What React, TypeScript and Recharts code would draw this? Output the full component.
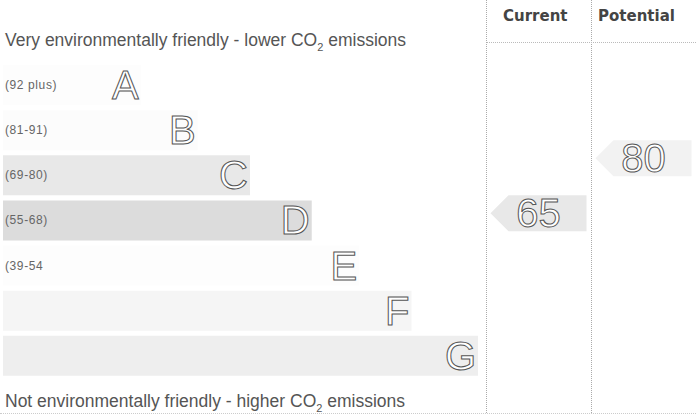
import React from 'react';
import { BarChart, Bar, XAxis, YAxis, Cell, LabelList, ScatterChart, Scatter } from 'recharts';

const bands = ['A', 'B', 'C', 'D', 'E', 'F', 'G'];
const bandRanges = ['(92 plus)', '(81-91)', '(69-80)', '(55-68)', '(39-54', '', ''];
const bandLengths = [29, 41, 52, 65, 75, 86, 100];
const bandColors = ['#fdfdfd', '#fcfcfc', '#e8e8e8', '#dcdcdc', '#fdfdfd', '#f5f5f5', '#eeeeee'];

const ratingColumns = ['Current', 'Potential'];
const ratingValues = [65, 80];
const ratingColors = ['#e8e8e8', '#f2f2f2'];

const bandData = bands.map((b, i) => ({ band: b, range: bandRanges[i], length: bandLengths[i] }));
const ratingData = ratingColumns.map((c, i) => ({ col: i + 0.5, rating: ratingValues[i], name: c, color: ratingColors[i] }));

const LetterLabel = (props: any) => {
  const { x, y, width, height, value } = props;
  return (
    <text
      x={x + width - 2}
      y={y + height / 2 + 14}
      textAnchor="end"
      fontFamily="Liberation Sans, Arial, sans-serif"
      fontSize={40}
      fill="#ffffff"
      stroke="#555"
      strokeWidth={1}
    >
      {value}
    </text>
  );
};

const RangeLabel = (props: any) => {
  const { x, y, height, value } = props;
  return (
    <text
      x={x + 2}
      y={y + height / 2 + 4}
      fontFamily="Liberation Sans, Arial, sans-serif"
      fontSize={12}
      letterSpacing={0.6}
      fill="#666"
    >
      {value}
    </text>
  );
};

const ArrowShape = (props: any) => {
  const { cx, cy, payload } = props;
  const w = 96;
  const h = 36;
  const x0 = cx - w / 2;
  const x1 = cx + w / 2;
  const t = cy - h / 2;
  const b = cy + h / 2;
  const pts = `${x0},${cy} ${x0 + h / 2},${t} ${x1},${t} ${x1},${b} ${x0 + h / 2},${b}`;
  return (
    <g>
      <polygon points={pts} fill={payload.color} />
      <text
        x={cx}
        y={cy + 14}
        textAnchor="middle"
        fontFamily="Liberation Sans, Arial, sans-serif"
        fontSize={40}
        fill="#ffffff"
        stroke="#555"
        strokeWidth={1}
      >
        {payload.rating}
      </text>
    </g>
  );
};

const textStyle: React.CSSProperties = {
  position: 'absolute',
  fontFamily: 'Liberation Sans, Arial, sans-serif',
  fontSize: 17.5,
  color: '#555',
  whiteSpace: 'nowrap',
  lineHeight: '20px',
};

const headStyle: React.CSSProperties = {
  ...textStyle,
  top: 6,
  fontFamily: 'DejaVu Sans, sans-serif',
  fontWeight: 'bold',
  fontSize: 15,
  color: '#444',
};

export default function App() {
  return (
    <div style={{ position: 'absolute', left: 0, top: 0, width: 696, height: 416, background: '#fff', overflow: 'hidden' }}>
      <div style={{ position: 'absolute', left: 0, top: 0 }}>
        <BarChart
          width={486}
          height={416}
          data={bandData}
          layout="vertical"
          margin={{ top: 62, right: 8, bottom: 38, left: 3 }}
        >
          <XAxis type="number" domain={[0, 100]} hide />
          <YAxis type="category" dataKey="band" hide />
          <Bar dataKey="length" barSize={40} isAnimationActive={false}>
            {bandData.map((d, i) => (
              <Cell key={d.band} fill={bandColors[i]} />
            ))}
            <LabelList dataKey="range" content={RangeLabel} />
            <LabelList dataKey="band" content={LetterLabel} />
          </Bar>
        </BarChart>
      </div>
      <div style={{ position: 'absolute', left: 486, top: 0 }}>
        <ScatterChart width={210} height={416} margin={{ top: 85, right: 0, bottom: 38, left: 0 }}>
          <XAxis type="number" dataKey="col" domain={[0, 2]} hide />
          <YAxis type="number" dataKey="rating" domain={[20, 100]} hide />
          <Scatter data={ratingData} shape={ArrowShape} isAnimationActive={false} />
        </ScatterChart>
      </div>
      {/* column borders */}
      <div style={{ position: 'absolute', left: 486, top: 0, width: 0, height: 413, borderLeft: '1px dotted #aaa' }} />
      <div style={{ position: 'absolute', left: 591, top: 0, width: 0, height: 413, borderLeft: '1px dotted #aaa' }} />
      <div style={{ position: 'absolute', left: 487, top: 42, width: 209, height: 0, borderTop: '1px dotted #bbb' }} />
      <div style={{ position: 'absolute', left: 0, top: 413, width: 696, height: 0, borderTop: '1px dotted #ccc' }} />
      {/* headers */}
      <div style={{ ...headStyle, left: 503 }}>{ratingColumns[0]}</div>
      <div style={{ ...headStyle, left: 598 }}>{ratingColumns[1]}</div>
      <div style={{ ...textStyle, left: 5, top: 30 }}>
        Very environmentally friendly - lower CO<sub style={{ fontSize: 11, lineHeight: 0 }}>2</sub> emissions
      </div>
      <div style={{ ...textStyle, left: 5, top: 391 }}>
        Not environmentally friendly - higher CO<sub style={{ fontSize: 11, lineHeight: 0 }}>2</sub> emissions
      </div>
    </div>
  );
}
